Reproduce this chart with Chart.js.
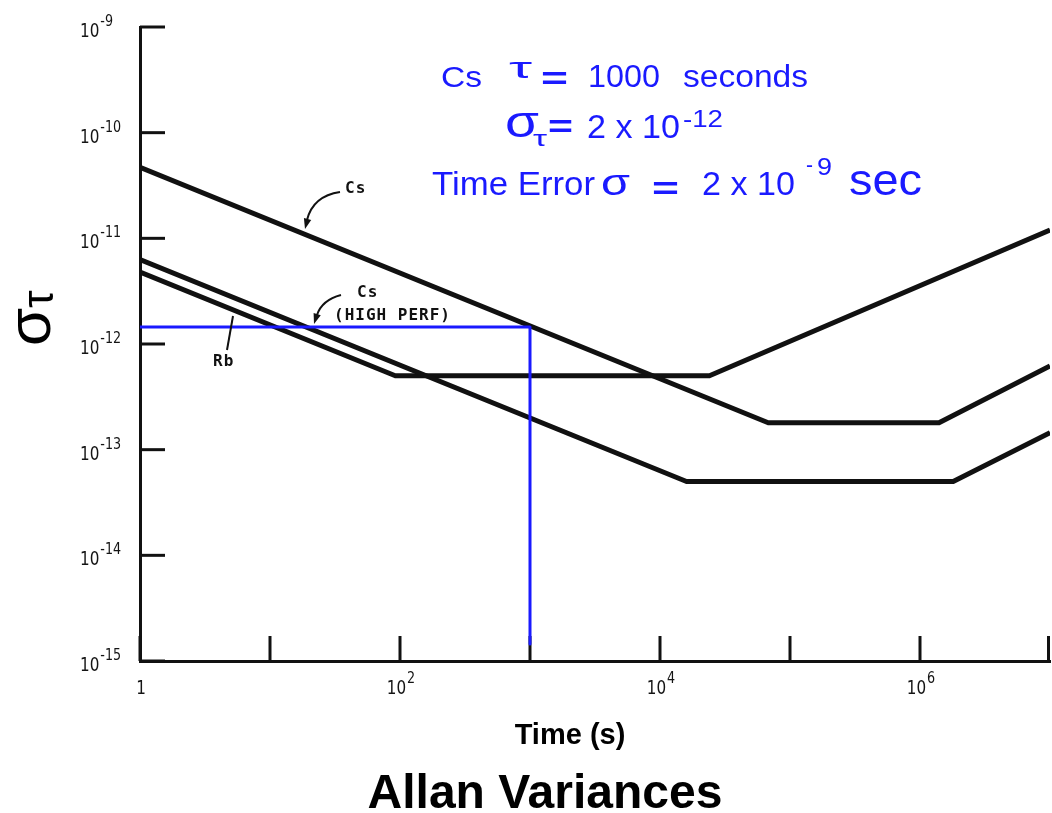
<!DOCTYPE html>
<html>
<head>
<meta charset="utf-8">
<script src="https://cdn.jsdelivr.net/npm/chart.js@4.4.0/dist/chart.umd.min.js"></script>
<style>
  html, body { margin: 0; padding: 0; background: #fff; }
  #wrap { position: relative; width: 1052px; height: 813px; }
</style>
</head>
<body>
<div id="wrap"><canvas id="allan"></canvas></div>
<script>
// corners of the piecewise Allan deviation curves (tau in s, sigma dimensionless)
const csTau     = [1, 6.8e4, 1.4e6, 1e7];
const csSigma   = [4.7e-11, 1.8e-13, 1.8e-13, 6.2e-13];
const csHpTau   = [1, 1.6e4, 1.8e6, 1e7];
const csHpSigma = [6.3e-12, 5e-14, 5e-14, 1.45e-13];
const rbTau     = [1, 92, 2.4e4, 1e7];
const rbSigma   = [4.8e-12, 5e-13, 5e-13, 1.2e-11];

// blue reading of the Cs curve at tau = 1000 s
const markTau   = [1, 1000, 1000];
const markSigma = [1.45e-12, 1.45e-12, 1.45e-15];

// axis decades
const xTicks      = [1, 1e1, 1e2, 1e3, 1e4, 1e5, 1e6, 1e7];
const xTickLabels = ['1', '', '10^2', '', '10^4', '', '10^6', ''];
const yTicks      = [1e-9, 1e-10, 1e-11, 1e-12, 1e-13, 1e-14, 1e-15];
const yTickLabels = ['10^-9', '10^-10', '10^-11', '10^-12', '10^-13', '10^-14', '10^-15'];

const INK  = '#111';
const BLUE = '#1a1aff';
const SANS = '"Liberation Sans", Arial, sans-serif';

const toPts = (xs, ys) => xs.map((x, i) => ({ x: x, y: ys[i] }));

// text squeezed horizontally by sx
function txt(ctx, s, font, x, y, sx) {
  ctx.save();
  ctx.font = font;
  ctx.translate(x, y);
  ctx.scale(sx || 1, 1);
  ctx.fillText(s, 0, 0);
  ctx.restore();
}

// text stretched to a given width
function fitTxt(ctx, s, font, x, y, width) {
  ctx.save();
  ctx.font = font;
  const w = ctx.measureText(s).width;
  ctx.translate(x, y);
  ctx.scale(width / w, 1);
  ctx.fillText(s, 0, 0);
  ctx.restore();
}

// "10^-12" -> base + raised exponent
function drawPow(ctx, label, x, y, align) {
  const parts = label.split('^');
  const base = parts[0], exp = parts[1] || '';
  const bigFont = '19px "DejaVu Sans"', smallFont = '15px "DejaVu Sans"';
  ctx.font = bigFont;
  const wb = ctx.measureText(base).width * 0.8;
  ctx.font = smallFont;
  const we = exp ? ctx.measureText(exp).width * 0.85 + 1 : 0;
  let x0 = x;
  if (align === 'center') x0 = x - (wb + we) / 2;
  ctx.textAlign = 'left';
  ctx.textBaseline = 'alphabetic';
  txt(ctx, base, bigFont, x0, y, 0.8);
  if (exp) txt(ctx, exp, smallFont, x0 + wb + 1, y - 11, 0.85);
}

function arrowHead(ctx, x, y, ang) {
  const L = 11;
  ctx.beginPath();
  ctx.moveTo(x, y);
  ctx.lineTo(x - L * Math.cos(ang - 0.35), y - L * Math.sin(ang - 0.35));
  ctx.lineTo(x - L * Math.cos(ang + 0.35), y - L * Math.sin(ang + 0.35));
  ctx.closePath();
  ctx.fill();
}

const axisInk = {
  id: 'axisInk',
  // inward tick marks go under the curves
  beforeDatasetsDraw(chart) {
    const ctx = chart.ctx;
    const xs = chart.scales.x, ys = chart.scales.y;
    const area = chart.chartArea;
    ctx.save();
    ctx.strokeStyle = INK;
    ctx.lineWidth = 3;
    yTicks.forEach(v => {
      const py = ys.getPixelForValue(v);
      ctx.beginPath();
      ctx.moveTo(area.left, py);
      ctx.lineTo(area.left + 25, py);
      ctx.stroke();
    });
    xTicks.forEach(v => {
      const px = Math.min(xs.getPixelForValue(v), area.right - 1.5);
      ctx.beginPath();
      ctx.moveTo(px, area.bottom);
      ctx.lineTo(px, area.bottom - 25);
      ctx.stroke();
    });
    ctx.restore();
  },
  afterDraw(chart) {
    const ctx = chart.ctx;
    const xs = chart.scales.x, ys = chart.scales.y;
    const area = chart.chartArea;
    ctx.save();
    ctx.fillStyle = '#141414';

    // tick labels
    yTicks.forEach((v, i) => {
      drawPow(ctx, yTickLabels[i], 80, ys.getPixelForValue(v) + 10, 'left');
    });
    xTicks.forEach((v, i) => {
      if (xTickLabels[i]) drawPow(ctx, xTickLabels[i], xs.getPixelForValue(v) + 1, area.bottom + 33, 'center');
    });

    // axis titles
    ctx.fillStyle = '#000';
    ctx.textAlign = 'center';
    ctx.font = 'bold 29px ' + SANS;
    ctx.fillText('Time (s)', 570, 744);
    ctx.font = 'bold 48px ' + SANS;
    ctx.fillText('Allan Variances', 545, 808);

    ctx.save();
    ctx.translate(50, 346);
    ctx.rotate(-Math.PI / 2);
    ctx.textAlign = 'left';
    ctx.font = '62px ' + SANS;
    ctx.fillText('σ', 0, 0);
    const ws = ctx.measureText('σ').width;
    ctx.font = '44px ' + SANS;
    ctx.fillText('τ', ws, 3);
    ctx.restore();

    // curve labels, hand lettered look
    ctx.fillStyle = INK;
    ctx.strokeStyle = INK;
    ctx.lineWidth = 2;
    ctx.textAlign = 'left';
    ctx.font = 'bold 16px "DejaVu Sans Mono", monospace';
    ctx.letterSpacing = '1px';
    ctx.fillText('Cs', 345, 193);
    ctx.fillText('Cs', 357, 297);
    ctx.fillText('(HIGH PERF)', 334, 320);
    ctx.fillText('Rb', 213, 366);
    ctx.letterSpacing = '0px';

    ctx.beginPath();
    ctx.moveTo(340, 192);
    ctx.quadraticCurveTo(313, 196, 307, 220);
    ctx.stroke();
    arrowHead(ctx, 305, 229, Math.PI * 0.58);

    ctx.beginPath();
    ctx.moveTo(341, 295);
    ctx.quadraticCurveTo(322, 300, 317, 315);
    ctx.stroke();
    arrowHead(ctx, 314, 324, Math.PI * 0.6);

    ctx.beginPath();
    ctx.moveTo(227, 350);
    ctx.lineTo(233, 316);
    ctx.stroke();

    // blue note: [text, font, left x, baseline, width]
    ctx.fillStyle = BLUE;
    const note = [
      ['Cs',         '29px ' + SANS,      441, 87,  41],
      ['τ',          '30px ' + SANS,      509, 78,  23],
      ['=',          'bold 32px ' + SANS, 541, 89,  27],
      ['1000',       '31px ' + SANS,      588, 87,  72],
      ['seconds',    '31px ' + SANS,      683, 87, 125],
      ['σ',          '44px ' + SANS,      505, 137, 34],
      ['τ',          '22px ' + SANS,      533, 146, 14],
      ['=',          'bold 32px ' + SANS, 548, 137, 25],
      ['2 x 10',     '33px ' + SANS,      587, 138, 93],
      ['-12',        '23px ' + SANS,      683, 127, 40],
      ['Time Error', '33px ' + SANS,      432, 195, 163],
      ['σ',          '36px ' + SANS,      601, 195, 29],
      ['=',          'bold 32px ' + SANS, 652, 199, 27],
      ['2 x 10',     '33px ' + SANS,      702, 195, 93],
      ['-',          '22px ' + SANS,      806, 172,  7],
      ['9',          '23px ' + SANS,      817, 175, 15],
      ['sec',        '44px ' + SANS,      849, 195, 73]
    ];
    note.forEach(n => fitTxt(ctx, n[0], n[1], n[2], n[3], n[4]));

    ctx.restore();
  }
};

const lineStyle = (color, width) => ({
  borderColor: color,
  backgroundColor: color,
  borderWidth: width,
  pointRadius: 0,
  fill: false,
  tension: 0,
  borderJoinStyle: 'round',
  borderCapStyle: 'butt'
});

new Chart(document.getElementById('allan'), {
  type: 'line',
  data: {
    datasets: [
      Object.assign({ label: 'tau = 1000 s', data: toPts(markTau, markSigma), order: 0 }, lineStyle(BLUE, 3)),
      Object.assign({ label: 'Cs', data: toPts(csTau, csSigma), order: 1 }, lineStyle(INK, 5)),
      Object.assign({ label: 'Cs (HIGH PERF)', data: toPts(csHpTau, csHpSigma), order: 1 }, lineStyle(INK, 5)),
      Object.assign({ label: 'Rb', data: toPts(rbTau, rbSigma), order: 1 }, lineStyle(INK, 5))
    ]
  },
  options: {
    responsive: true,
    maintainAspectRatio: false,
    animation: false,
    devicePixelRatio: 1,
    layout: { padding: { left: 132, right: 2, top: 27, bottom: 144 } },
    plugins: { legend: { display: false }, tooltip: { enabled: false } },
    scales: {
      x: {
        type: 'logarithmic',
        min: 1, max: 1e7,
        grid: { display: false },
        ticks: { display: false },
        border: { display: true, color: INK, width: 3 }
      },
      y: {
        type: 'logarithmic',
        min: 1e-15, max: 1e-9,
        grid: { display: false },
        ticks: { display: false },
        border: { display: true, color: INK, width: 3 }
      }
    }
  },
  plugins: [axisInk]
});
</script>
</body>
</html>
